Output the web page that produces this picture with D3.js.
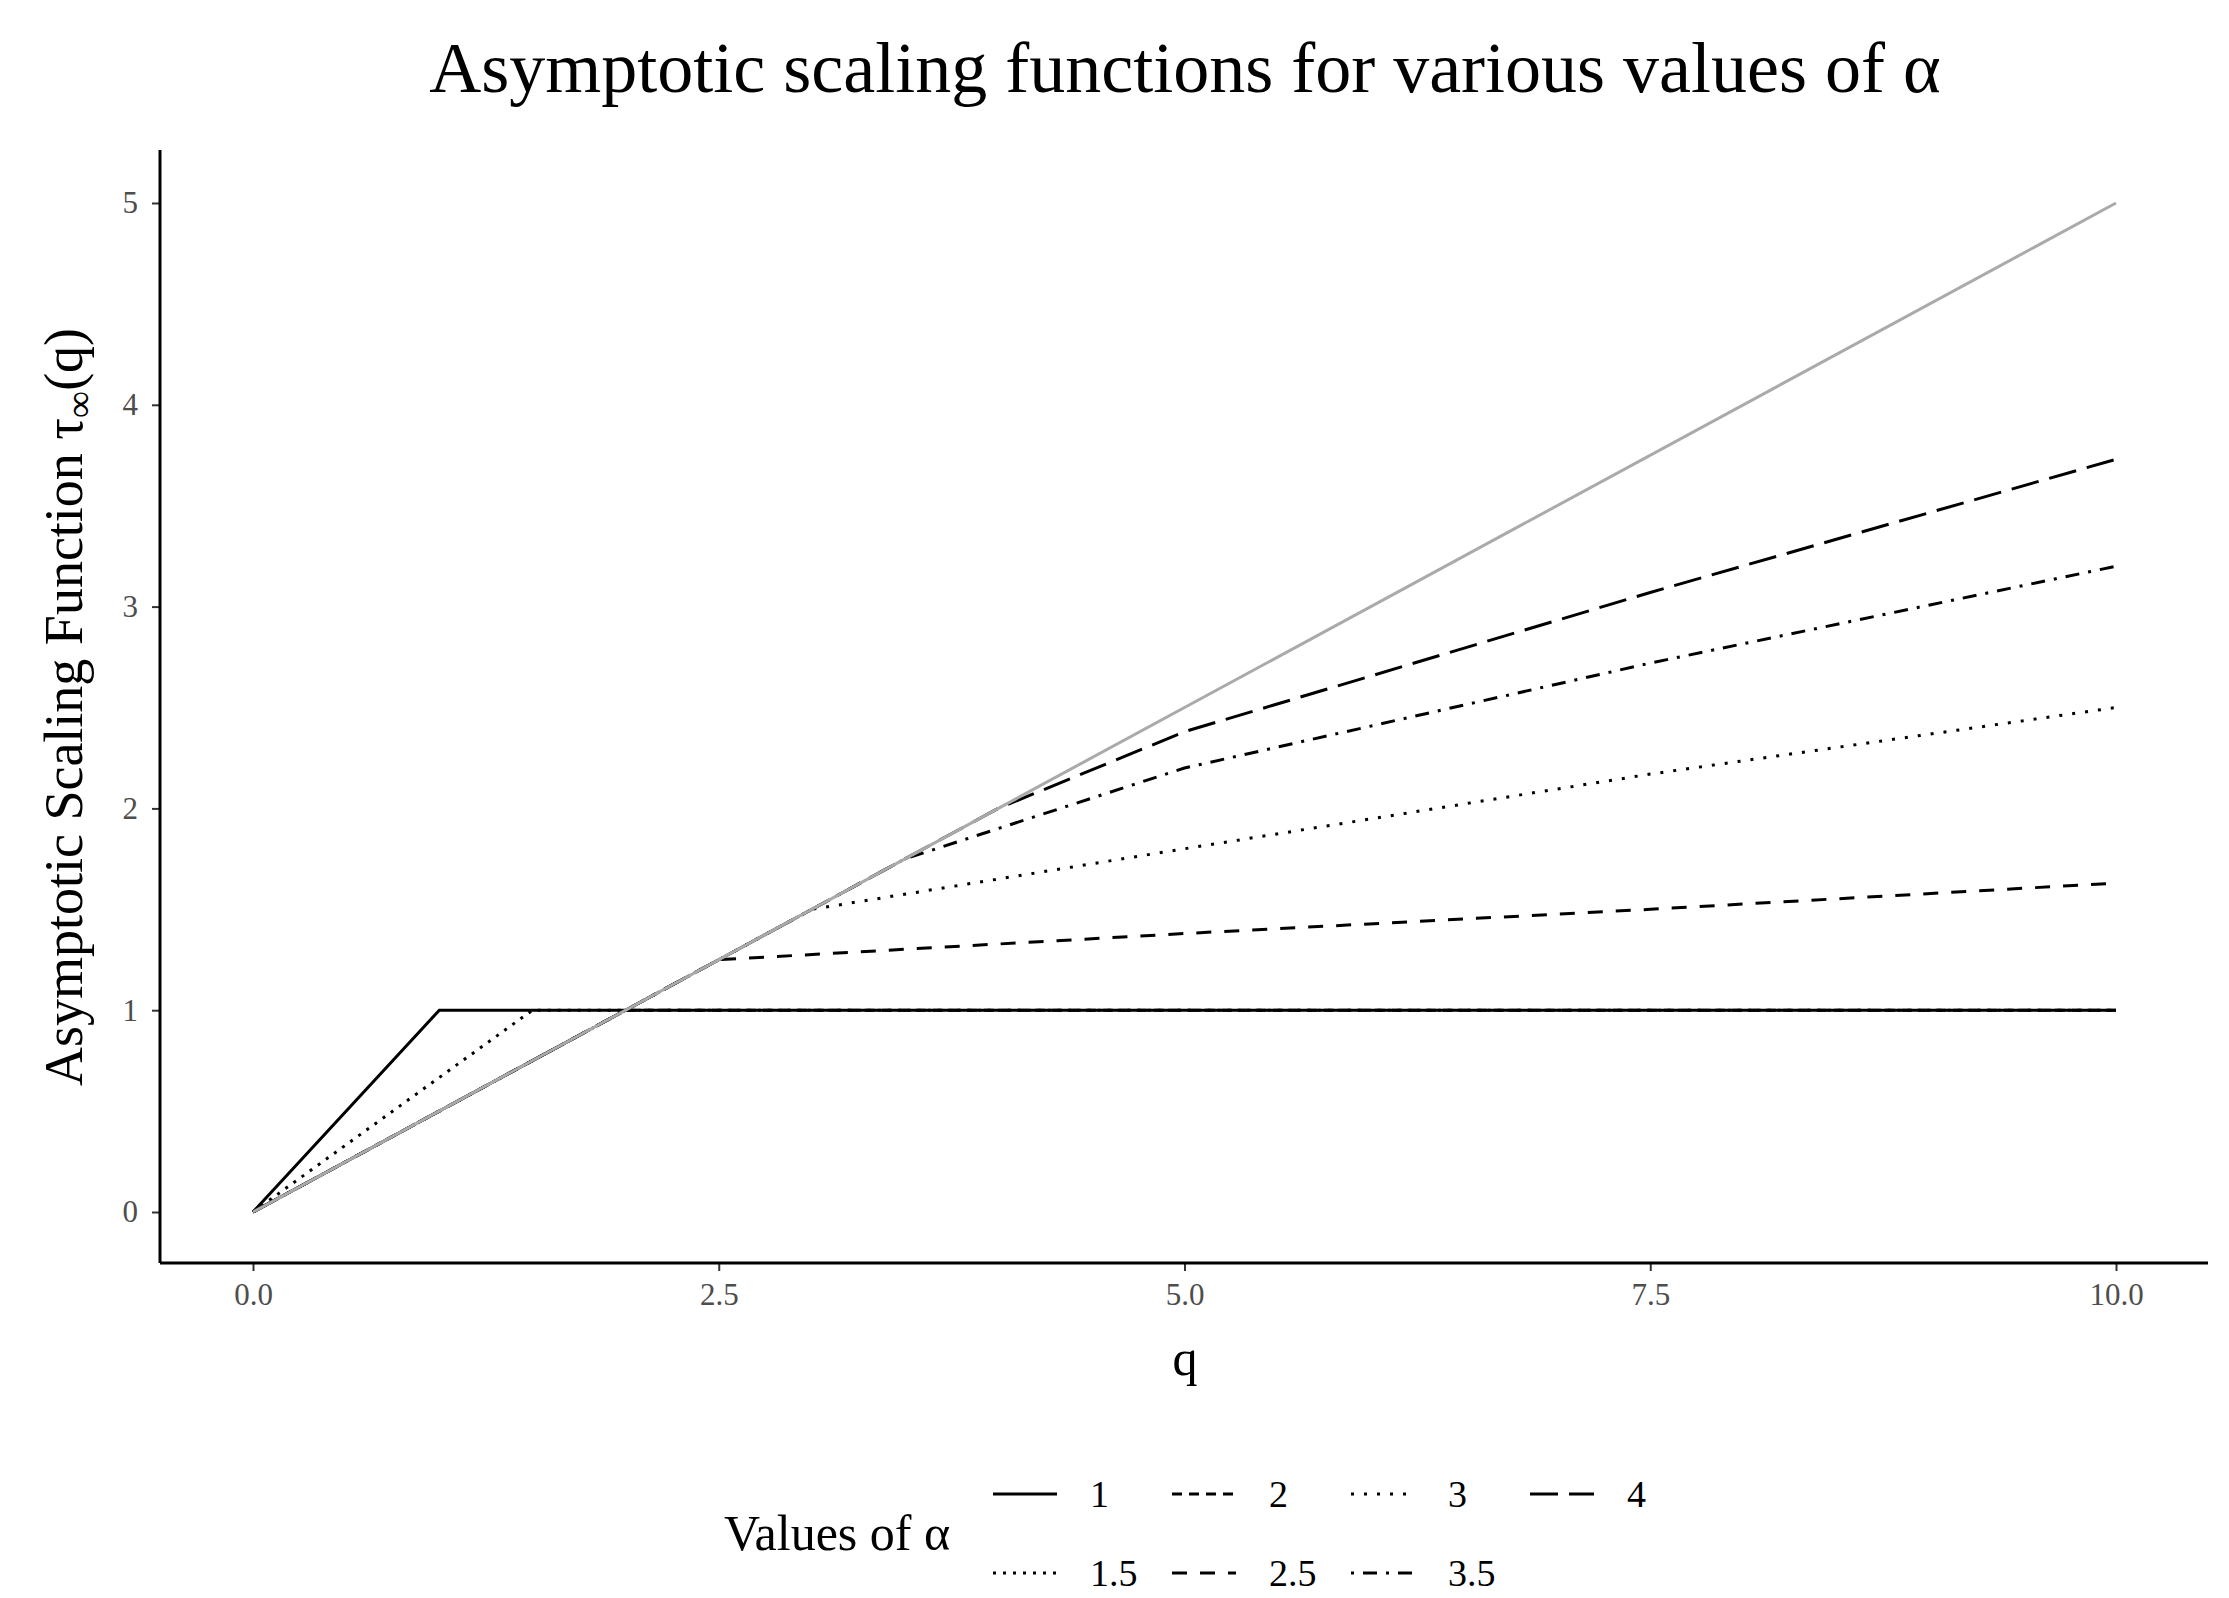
<!DOCTYPE html>
<html>
<head>
<meta charset="utf-8">
<script src="https://cdn.jsdelivr.net/npm/d3@7"></script>
<style>
  body { margin: 0; background: #fff; }
  text { font-family: "Liberation Serif", "DejaVu Serif", serif; }
</style>
</head>
<body>
<svg id="chart" width="2229" height="1598"></svg>
<script>
// Values
var alphas = ['1', '1.5', '2', '2.5', '3', '3.5', '4'];
var qs = [
  [0, 1, 10],
  [0, 1.5, 10],
  [0, 2, 10],
  [0, 2.5, 5, 7.5, 10],
  [0, 3, 5, 7.5, 10],
  [0, 3.5, 5, 7.5, 10],
  [0, 4, 5, 7.5, 10]
];
var taus = [
  [0, 1, 1],
  [0, 1, 1],
  [0, 1, 1],
  [0, 1.25, 1.38, 1.5, 1.63],
  [0, 1.5, 1.8, 2.17, 2.5],
  [0, 1.75, 2.2, 2.72, 3.2],
  [0, 2, 2.38, 3.07, 3.73]
];
var dashes = ['none', '3,7', '10,7', '15,13', '3,10', '3,9,14,9', '28,11'];
var refQ = [0, 10], refTau = [0, 5];
var xTicks = [0, 2.5, 5, 7.5, 10];
var yTicks = [0, 1, 2, 3, 4, 5];

var svg = d3.select('#chart');
var x = d3.scaleLinear().domain([0, 10]).range([253, 2116]);
var y = d3.scaleLinear().domain([0, 5]).range([1212, 203]);
var line = d3.line().x(function(d) { return x(d[0]); }).y(function(d) { return y(d[1]); });

// series
alphas.forEach(function(a, i) {
  var pts = qs[i].map(function(q, j) { return [q, taus[i][j]]; });
  svg.append('path').attr('d', line(pts)).attr('fill', 'none')
    .attr('stroke', '#000').attr('stroke-width', 3)
    .attr('stroke-dasharray', dashes[i]);
});
svg.append('path').attr('d', line(refQ.map(function(q, j) { return [q, refTau[j]]; })))
  .attr('fill', 'none').attr('stroke', '#aaa').attr('stroke-width', 3);

// axes
var xAxis = svg.append('g').attr('transform', 'translate(0,1263)')
  .call(d3.axisBottom(x).tickValues(xTicks).tickFormat(d3.format('.1f')).tickSizeOuter(0).tickSize(8).tickPadding(12));
var yAxis = svg.append('g').attr('transform', 'translate(160,0)')
  .call(d3.axisLeft(y).tickValues(yTicks).tickFormat(d3.format('d')).tickSizeOuter(0).tickSize(8).tickPadding(14));
[xAxis, yAxis].forEach(function(g) {
  g.select('.domain').remove();
  g.selectAll('.tick line').attr('stroke', '#333').attr('stroke-width', 2);
  g.selectAll('.tick text').attr('fill', '#4d4d4d').style('font-size', '31px')
    .style('font-family', '"Liberation Serif", serif');
});
svg.append('line').attr('x1', 160).attr('x2', 2208).attr('y1', 1263).attr('y2', 1263).attr('stroke', '#000').attr('stroke-width', 3);
svg.append('line').attr('x1', 160).attr('x2', 160).attr('y1', 150).attr('y2', 1263).attr('stroke', '#000').attr('stroke-width', 3);

// titles
svg.append('text').attr('x', 1185).attr('y', 92).attr('text-anchor', 'middle')
  .style('font-size', '72px').text('Asymptotic scaling functions for various values of α');
svg.append('text').attr('x', 1185).attr('y', 1375).attr('text-anchor', 'middle')
  .style('font-size', '50px').text('q');
svg.append('text').attr('transform', 'translate(82,707) rotate(-90)').attr('text-anchor', 'middle')
  .style('font-size', '54px').html('Asymptotic Scaling Function τ<tspan font-size="38px" dy="10">∞</tspan><tspan dy="-10">(q)</tspan>');

// legend
var leg = svg.append('g');
leg.append('text').attr('x', 724).attr('y', 1550).style('font-size', '50px').text('Values of α');
var order = [0, 2, 4, 6, 1, 3, 5];
order.forEach(function(i, k) {
  var row = k < 4 ? 0 : 1, col = k < 4 ? k : k - 4;
  var lx = 993 + col * 179, ly = row === 0 ? 1494 : 1573;
  leg.append('line').attr('x1', lx).attr('x2', lx + 64).attr('y1', ly).attr('y2', ly)
    .attr('stroke', '#000').attr('stroke-width', 3).attr('stroke-dasharray', dashes[i]);
  leg.append('text').attr('x', lx + 97).attr('y', ly + 13).style('font-size', '38px').text(alphas[i]);
});
</script>
</body>
</html>
